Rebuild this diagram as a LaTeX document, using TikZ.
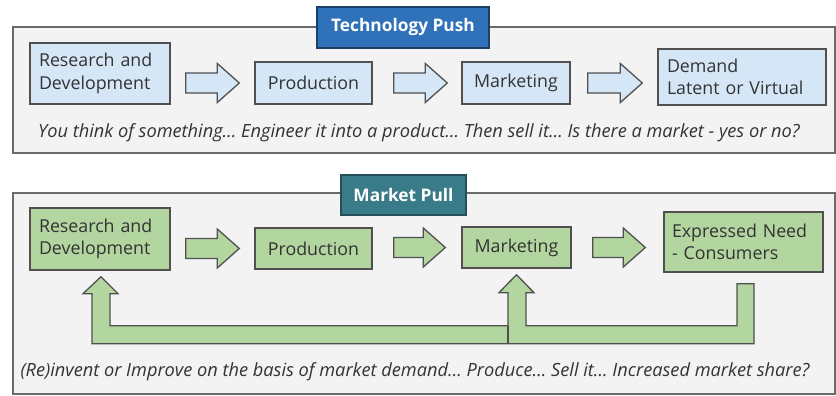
\documentclass[tikz,border=0pt]{standalone}
\usepackage{fontspec}
\setmainfont{Open Sans}
\usetikzlibrary{calc}
\definecolor{boxline}{HTML}{505050}
\definecolor{frameline}{HTML}{6A6A6A}
\definecolor{framefill}{HTML}{F3F3F3}
\definecolor{bluefill}{HTML}{D5E6F6}
\definecolor{greenfill}{HTML}{B3D59F}
\definecolor{titleblue}{HTML}{2F72BA}
\definecolor{titleblueline}{HTML}{1D3F66}
\definecolor{titleteal}{HTML}{3A7B8A}
\definecolor{titletealline}{HTML}{24505A}
\definecolor{txt}{HTML}{333333}
\tikzset{
  panel/.style={draw=frameline, line width=1.4pt, fill=framefill},
  stepbox/.style={draw=boxline, line width=1.4pt, text=txt, inner sep=0pt,
    font=\fontsize{17.8}{22.5}\selectfont},
  leftbox/.style={stepbox, align=left},
  bluebox/.style={fill=bluefill},
  greenbox/.style={fill=greenfill},
  titlebox/.style={line width=1.4pt, text=white, inner sep=0pt,
    font=\fontsize{17.3}{20}\selectfont\bfseries},
  caption/.style={text=txt, inner sep=0pt, font=\fontsize{18.2}{21}\selectfont\itshape},
  blockarrow/.style={draw=boxline, line width=1.3pt, line join=miter},
}
% block arrow: #1 style fill, #2 from node, #3 to node, #4 start gap, #5 end gap, #6 node giving the centre line
\newcommand\blockarr[6]{%
  \path[blockarrow,#1] let \p1=(#2.east), \p2=(#3.west), \p3=(#6.center) in
    ({\x1+#4pt},{\y3+10pt}) -- ({\x2-#5pt-22pt},{\y3+10pt}) -- ({\x2-#5pt-22pt},{\y3+19.5pt})
    -- ({\x2-#5pt},{\y3}) -- ({\x2-#5pt-22pt},{\y3-19.5pt}) -- ({\x2-#5pt-22pt},{\y3-10pt})
    -- ({\x1+#4pt},{\y3-10pt}) -- cycle;}
\begin{document}
\begin{tikzpicture}[x=1pt,y=-1pt]
\useasboundingbox (0,0) rectangle (836,396);
\fill[white] (0,0) rectangle (836,396);
% ---------- Technology Push ----------
\draw[panel] (13,27) rectangle (835,153);
\node[titlebox, fill=titleblue, draw=titleblueline, minimum width=172pt, minimum height=41pt] (ttitle) at (403,27.5) {Technology Push};
\node[leftbox, bluebox, minimum width=140pt, minimum height=61pt, text width=122pt] (trd) at (100,73.5) {Research and\\Development};
\node[stepbox, bluebox, minimum width=117pt, minimum height=42pt] (tprod) at (313.5,83) {Production};
\node[stepbox, bluebox, minimum width=108pt, minimum height=42pt] (tmkt) at (516,83) {Marketing};
\node[leftbox, bluebox, minimum width=168pt, minimum height=56pt, text width=150pt] (tdem) at (742,77) {Demand\\Latent or Virtual};
\blockarr{fill=bluefill}{trd}{tprod}{15}{15}{tprod}
\blockarr{fill=bluefill}{tprod}{tmkt}{21}{14}{tmkt}
\blockarr{fill=bluefill}{tmkt}{tdem}{17}{15}{tmkt}
\node[caption] (tcap) at (419,133) {You think of something\ldots\ Engineer it into a product\ldots\ Then sell it\ldots\ Is there a market - yes or no?};
% ---------- Market Pull ----------
\draw[panel] (13,193) rectangle (835,394);
\node[titlebox, fill=titleteal, draw=titletealline, minimum width=125pt, minimum height=40pt] (btitle) at (403.5,195) {Market Pull};
\node[leftbox, greenbox, minimum width=140pt, minimum height=62pt, text width=122pt] (brd) at (100,239) {Research and\\Development};
\node[stepbox, greenbox, minimum width=117pt, minimum height=41pt] (bprod) at (313.5,248.5) {Production};
\node[stepbox, greenbox, minimum width=109pt, minimum height=41pt] (bmkt) at (516.5,247.5) {Marketing};
\node[leftbox, greenbox, minimum width=159pt, minimum height=60pt, text width=143pt] (bexp) at (743.5,242) {Expressed Need\\- Consumers};
\blockarr{fill=greenfill}{brd}{bprod}{15}{15}{bprod}
\blockarr{fill=greenfill}{bprod}{bmkt}{21}{16}{bmkt}
\blockarr{fill=greenfill}{bmkt}{bexp}{21}{18}{bmkt}
% feedback arrow
\coordinate (fbR) at ($(bexp.south)+(2,11)$);
\draw[blockarrow, fill=greenfill]
  ($(fbR)+(-8.5,0)$) -- ($(fbR)+(8.5,0)$) -- ($(fbR)+(8.5,60)$)
  -- ($(brd.south)+(-8,73)$) -- ($(brd.south)+(-8,23)$) -- ($(brd.south)+(-17,23)$)
  -- ($(brd.south)+(1,6)$) -- ($(brd.south)+(18,23)$) -- ($(brd.south)+(10,23)$)
  -- ($(brd.south)+(10,55)$) -- ($(bmkt.south)+(-8.5,57)$) -- ($(bmkt.south)+(-8.5,24)$)
  -- ($(bmkt.south)+(-17.5,24)$) -- ($(bmkt.south)+(0,6)$) -- ($(bmkt.south)+(17.5,24)$)
  -- ($(bmkt.south)+(9.5,24)$) -- ($(bmkt.south)+(9.5,57)$) -- ($(fbR)+(-8.5,42)$) -- cycle;
\draw[blockarrow] ($(bmkt.south)+(-8.5,57)$) -- ($(bmkt.south)+(-8.5,75)$);
\node[caption] (bcap) at (415,372) {(Re)invent or Improve on the basis of market demand\ldots\ Produce\ldots\ Sell it\ldots\ Increased market share?};
\end{tikzpicture}
\end{document}
